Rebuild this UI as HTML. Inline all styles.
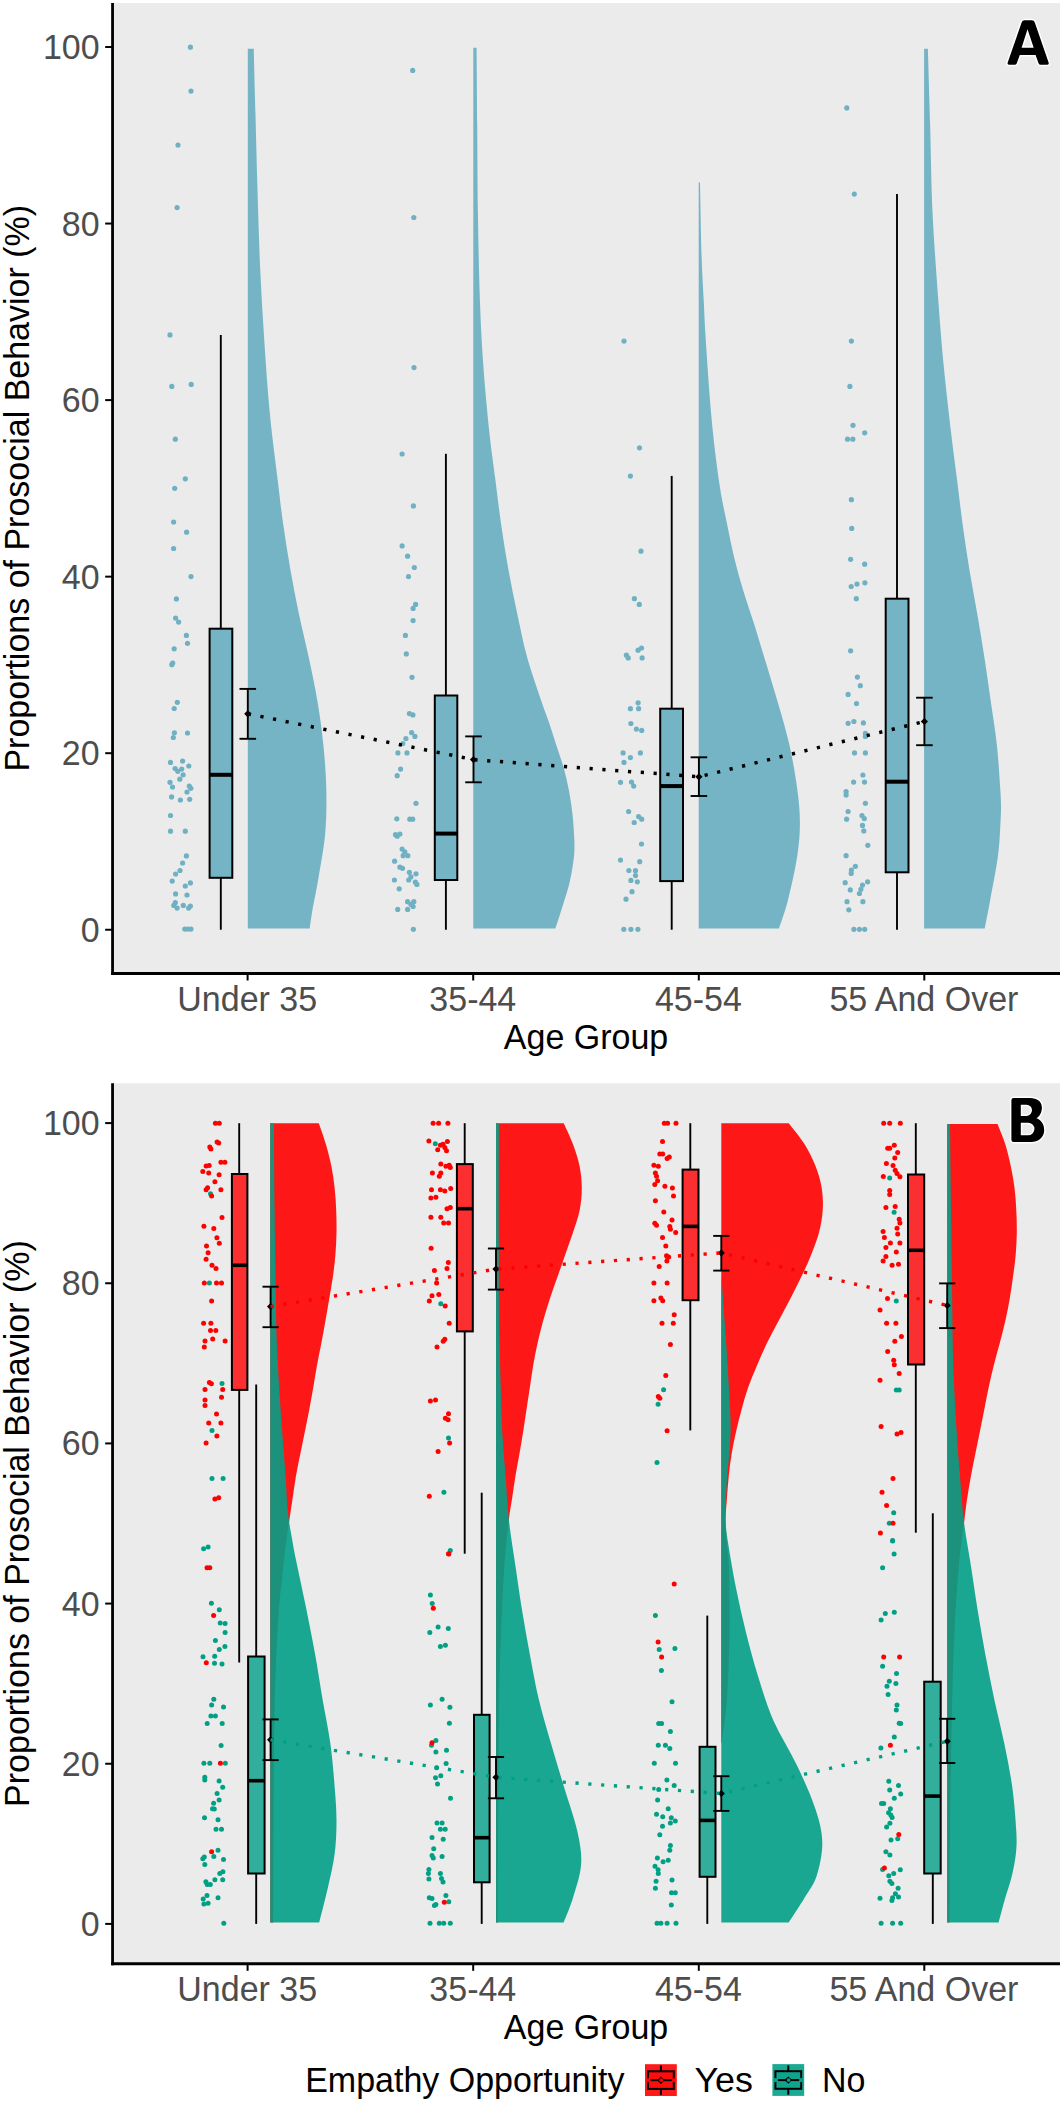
<!DOCTYPE html><html><head><meta charset="utf-8"><style>html,body{margin:0;padding:0;background:#fff;}svg{display:block;}</style></head><body>
<svg width="1062" height="2103" viewBox="0 0 1062 2103" font-family='"Liberation Sans", sans-serif'>
<rect x="0" y="0" width="1062" height="2103" fill="#fff"/>
<rect x="112.5" y="3.00" width="947.5" height="970.50" fill="#EBEBEB"/>
<path d="M247.80,48.75 L253.75,48.75 C254.04,59.79 254.88,91.46 255.50,115.00 C256.12,138.54 256.75,165.00 257.50,190.00 C258.25,215.00 258.88,240.00 260.00,265.00 C261.12,290.00 262.58,315.00 264.25,340.00 C265.92,365.00 267.76,391.67 270.00,415.00 C272.24,438.33 275.50,461.80 277.70,480.00 C279.90,498.20 281.12,509.47 283.20,524.20 C285.28,538.93 287.63,553.67 290.20,568.40 C292.77,583.13 295.53,597.87 298.60,612.60 C301.67,627.33 305.47,642.07 308.60,656.80 C311.73,671.53 314.93,686.27 317.40,701.00 C319.87,715.73 321.92,730.47 323.40,745.20 C324.88,759.93 326.00,774.67 326.30,789.40 C326.60,804.13 326.50,818.87 325.20,833.60 C323.90,848.33 320.65,864.90 318.50,877.80 C316.35,890.70 313.77,902.53 312.30,911.00 C310.83,919.47 310.13,925.67 309.70,928.60 L247.80,928.60 Z" fill="#75B4C5"/>
<path d="M473.30,47.80 L476.60,47.80 C476.70,60.40 476.98,96.07 477.20,123.40 C477.42,150.73 477.45,182.33 477.90,211.80 C478.35,241.27 478.98,274.42 479.90,300.20 C480.82,325.98 481.82,344.40 483.40,366.50 C484.98,388.60 487.40,413.88 489.40,432.80 C491.40,451.72 493.45,464.77 495.40,480.00 C497.35,495.23 498.97,509.47 501.10,524.20 C503.23,538.93 505.55,553.67 508.20,568.40 C510.85,583.13 513.87,597.87 517.00,612.60 C520.13,627.33 522.95,642.07 527.00,656.80 C531.05,671.53 537.62,690.00 541.30,701.00 C544.98,712.00 546.57,715.35 549.10,722.80 C551.63,730.25 554.03,738.08 556.50,745.70 C558.97,753.32 561.80,760.90 563.90,768.50 C566.00,776.10 567.67,783.68 569.10,791.30 C570.53,798.92 571.65,806.58 572.50,814.20 C573.35,821.82 573.88,831.30 574.20,837.00 C574.52,842.70 574.50,844.60 574.40,848.40 C574.30,852.20 574.40,854.10 573.60,859.80 C572.80,865.50 571.40,874.98 569.60,882.60 C567.80,890.22 565.17,897.83 562.80,905.50 C560.43,913.17 556.63,924.75 555.40,928.60 L473.30,928.60 Z" fill="#75B4C5"/>
<path d="M698.70,182.60 L700.00,182.60 C700.27,194.83 700.98,236.43 701.60,256.00 C702.22,275.57 703.08,287.28 703.70,300.00 C704.32,312.72 704.68,321.53 705.30,332.30 C705.92,343.07 706.67,353.83 707.40,364.60 C708.13,375.37 708.83,386.13 709.70,396.90 C710.57,407.67 711.50,418.42 712.60,429.20 C713.70,439.98 714.90,450.82 716.30,461.60 C717.70,472.38 719.13,483.13 721.00,493.90 C722.87,504.67 725.27,515.43 727.50,526.20 C729.73,536.97 731.77,547.73 734.40,558.50 C737.03,569.27 740.07,580.03 743.30,590.80 C746.53,601.57 750.33,612.10 753.80,623.10 C757.27,634.10 760.17,643.82 764.10,656.80 C768.03,669.78 773.17,686.27 777.40,701.00 C781.63,715.73 786.18,730.47 789.50,745.20 C792.82,759.93 795.57,776.52 797.30,789.40 C799.03,802.28 799.90,811.45 799.90,822.50 C799.90,833.55 799.28,842.80 797.30,855.70 C795.32,868.60 791.07,887.75 788.00,899.90 C784.93,912.05 780.42,923.82 778.90,928.60 L698.70,928.60 Z" fill="#75B4C5"/>
<path d="M924.10,48.70 L927.90,48.70 C928.27,61.15 929.33,96.22 930.10,123.40 C930.87,150.58 931.13,182.33 932.50,211.80 C933.87,241.27 936.42,274.42 938.30,300.20 C940.18,325.98 941.67,344.40 943.80,366.50 C945.93,388.60 948.88,413.88 951.10,432.80 C953.32,451.72 955.18,464.77 957.10,480.00 C959.02,495.23 960.58,509.47 962.60,524.20 C964.62,538.93 966.80,553.67 969.20,568.40 C971.60,583.13 974.48,597.87 977.00,612.60 C979.52,627.33 982.02,642.07 984.30,656.80 C986.58,671.53 988.60,686.27 990.70,701.00 C992.80,715.73 995.30,730.47 996.90,745.20 C998.50,759.93 999.62,779.27 1000.30,789.40 C1000.98,799.53 1000.97,800.48 1001.00,806.00 C1001.03,811.52 1001.00,814.22 1000.50,822.50 C1000.00,830.78 999.72,842.80 998.00,855.70 C996.28,868.60 992.42,887.75 990.20,899.90 C987.98,912.05 985.62,923.82 984.70,928.60 L924.10,928.60 Z" fill="#75B4C5"/>
<circle cx="190.4" cy="47.2" r="2.60" fill="#6FB1C3"/><circle cx="191.0" cy="91.1" r="2.60" fill="#6FB1C3"/><circle cx="178.0" cy="145.1" r="2.60" fill="#6FB1C3"/><circle cx="177.1" cy="207.6" r="2.60" fill="#6FB1C3"/><circle cx="170.0" cy="334.9" r="2.60" fill="#6FB1C3"/><circle cx="171.8" cy="386.4" r="2.60" fill="#6FB1C3"/><circle cx="191.2" cy="384.4" r="2.60" fill="#6FB1C3"/><circle cx="175.3" cy="439.2" r="2.60" fill="#6FB1C3"/><circle cx="185.3" cy="478.8" r="2.60" fill="#6FB1C3"/><circle cx="174.7" cy="488.3" r="2.60" fill="#6FB1C3"/><circle cx="173.6" cy="522.0" r="2.60" fill="#6FB1C3"/><circle cx="186.6" cy="532.2" r="2.60" fill="#6FB1C3"/><circle cx="173.6" cy="548.5" r="2.60" fill="#6FB1C3"/><circle cx="191.0" cy="576.6" r="2.60" fill="#6FB1C3"/><circle cx="176.4" cy="598.9" r="2.60" fill="#6FB1C3"/><circle cx="175.6" cy="618.1" r="2.60" fill="#6FB1C3"/><circle cx="178.6" cy="622.1" r="2.60" fill="#6FB1C3"/><circle cx="186.4" cy="635.4" r="2.60" fill="#6FB1C3"/><circle cx="187.5" cy="643.3" r="2.60" fill="#6FB1C3"/><circle cx="174.2" cy="648.8" r="2.60" fill="#6FB1C3"/><circle cx="172.7" cy="663.0" r="2.60" fill="#6FB1C3"/><circle cx="171.8" cy="664.7" r="2.60" fill="#6FB1C3"/><circle cx="177.3" cy="702.3" r="2.60" fill="#6FB1C3"/><circle cx="174.2" cy="708.5" r="2.60" fill="#6FB1C3"/><circle cx="174.4" cy="732.8" r="2.60" fill="#6FB1C3"/><circle cx="187.5" cy="733.0" r="2.60" fill="#6FB1C3"/><circle cx="173.3" cy="737.5" r="2.60" fill="#6FB1C3"/><circle cx="170.5" cy="762.4" r="2.60" fill="#6FB1C3"/><circle cx="182.6" cy="761.1" r="2.60" fill="#6FB1C3"/><circle cx="188.8" cy="766.0" r="2.60" fill="#6FB1C3"/><circle cx="175.1" cy="768.6" r="2.60" fill="#6FB1C3"/><circle cx="177.8" cy="771.3" r="2.60" fill="#6FB1C3"/><circle cx="181.7" cy="769.1" r="2.60" fill="#6FB1C3"/><circle cx="183.1" cy="774.8" r="2.60" fill="#6FB1C3"/><circle cx="179.8" cy="779.2" r="2.60" fill="#6FB1C3"/><circle cx="170.0" cy="782.3" r="2.60" fill="#6FB1C3"/><circle cx="172.5" cy="787.0" r="2.60" fill="#6FB1C3"/><circle cx="189.3" cy="786.1" r="2.60" fill="#6FB1C3"/><circle cx="190.8" cy="788.3" r="2.60" fill="#6FB1C3"/><circle cx="187.0" cy="792.0" r="2.60" fill="#6FB1C3"/><circle cx="171.6" cy="796.9" r="2.60" fill="#6FB1C3"/><circle cx="180.4" cy="800.0" r="2.60" fill="#6FB1C3"/><circle cx="189.7" cy="799.3" r="2.60" fill="#6FB1C3"/><circle cx="170.5" cy="815.5" r="2.60" fill="#6FB1C3"/><circle cx="170.5" cy="831.2" r="2.60" fill="#6FB1C3"/><circle cx="185.3" cy="831.2" r="2.60" fill="#6FB1C3"/><circle cx="186.4" cy="855.9" r="2.60" fill="#6FB1C3"/><circle cx="182.6" cy="863.0" r="2.60" fill="#6FB1C3"/><circle cx="180.0" cy="870.5" r="2.60" fill="#6FB1C3"/><circle cx="175.6" cy="874.0" r="2.60" fill="#6FB1C3"/><circle cx="172.2" cy="881.1" r="2.60" fill="#6FB1C3"/><circle cx="190.4" cy="882.9" r="2.60" fill="#6FB1C3"/><circle cx="185.3" cy="886.0" r="2.60" fill="#6FB1C3"/><circle cx="175.6" cy="893.9" r="2.60" fill="#6FB1C3"/><circle cx="187.0" cy="895.0" r="2.60" fill="#6FB1C3"/><circle cx="175.3" cy="902.5" r="2.60" fill="#6FB1C3"/><circle cx="173.8" cy="905.4" r="2.60" fill="#6FB1C3"/><circle cx="177.1" cy="908.1" r="2.60" fill="#6FB1C3"/><circle cx="183.3" cy="905.4" r="2.60" fill="#6FB1C3"/><circle cx="190.4" cy="906.1" r="2.60" fill="#6FB1C3"/><circle cx="188.6" cy="908.1" r="2.60" fill="#6FB1C3"/><circle cx="184.8" cy="929.1" r="2.60" fill="#6FB1C3"/><circle cx="187.7" cy="929.1" r="2.60" fill="#6FB1C3"/><circle cx="191.0" cy="929.1" r="2.60" fill="#6FB1C3"/><circle cx="412.7" cy="70.4" r="2.60" fill="#6FB1C3"/><circle cx="413.8" cy="217.5" r="2.60" fill="#6FB1C3"/><circle cx="414.0" cy="367.6" r="2.60" fill="#6FB1C3"/><circle cx="402.1" cy="454.0" r="2.60" fill="#6FB1C3"/><circle cx="413.4" cy="505.9" r="2.60" fill="#6FB1C3"/><circle cx="402.1" cy="545.9" r="2.60" fill="#6FB1C3"/><circle cx="407.6" cy="556.2" r="2.60" fill="#6FB1C3"/><circle cx="414.3" cy="567.5" r="2.60" fill="#6FB1C3"/><circle cx="408.5" cy="576.6" r="2.60" fill="#6FB1C3"/><circle cx="415.6" cy="604.4" r="2.60" fill="#6FB1C3"/><circle cx="413.1" cy="608.4" r="2.60" fill="#6FB1C3"/><circle cx="413.1" cy="620.6" r="2.60" fill="#6FB1C3"/><circle cx="405.4" cy="635.4" r="2.60" fill="#6FB1C3"/><circle cx="406.3" cy="653.9" r="2.60" fill="#6FB1C3"/><circle cx="412.0" cy="677.3" r="2.60" fill="#6FB1C3"/><circle cx="409.4" cy="713.6" r="2.60" fill="#6FB1C3"/><circle cx="412.9" cy="714.9" r="2.60" fill="#6FB1C3"/><circle cx="411.6" cy="732.6" r="2.60" fill="#6FB1C3"/><circle cx="414.9" cy="736.4" r="2.60" fill="#6FB1C3"/><circle cx="405.9" cy="738.6" r="2.60" fill="#6FB1C3"/><circle cx="402.8" cy="743.6" r="2.60" fill="#6FB1C3"/><circle cx="397.9" cy="752.9" r="2.60" fill="#6FB1C3"/><circle cx="407.0" cy="752.9" r="2.60" fill="#6FB1C3"/><circle cx="400.6" cy="769.1" r="2.60" fill="#6FB1C3"/><circle cx="397.2" cy="775.7" r="2.60" fill="#6FB1C3"/><circle cx="416.0" cy="803.3" r="2.60" fill="#6FB1C3"/><circle cx="396.8" cy="818.8" r="2.60" fill="#6FB1C3"/><circle cx="409.8" cy="819.2" r="2.60" fill="#6FB1C3"/><circle cx="412.7" cy="819.2" r="2.60" fill="#6FB1C3"/><circle cx="395.5" cy="834.7" r="2.60" fill="#6FB1C3"/><circle cx="399.9" cy="834.0" r="2.60" fill="#6FB1C3"/><circle cx="397.2" cy="836.2" r="2.60" fill="#6FB1C3"/><circle cx="402.1" cy="849.1" r="2.60" fill="#6FB1C3"/><circle cx="404.8" cy="851.9" r="2.60" fill="#6FB1C3"/><circle cx="407.8" cy="855.7" r="2.60" fill="#6FB1C3"/><circle cx="403.2" cy="855.7" r="2.60" fill="#6FB1C3"/><circle cx="394.6" cy="861.2" r="2.60" fill="#6FB1C3"/><circle cx="399.9" cy="867.2" r="2.60" fill="#6FB1C3"/><circle cx="402.5" cy="868.3" r="2.60" fill="#6FB1C3"/><circle cx="409.4" cy="872.3" r="2.60" fill="#6FB1C3"/><circle cx="416.0" cy="873.8" r="2.60" fill="#6FB1C3"/><circle cx="410.9" cy="876.9" r="2.60" fill="#6FB1C3"/><circle cx="408.7" cy="880.0" r="2.60" fill="#6FB1C3"/><circle cx="394.4" cy="880.0" r="2.60" fill="#6FB1C3"/><circle cx="415.4" cy="882.2" r="2.60" fill="#6FB1C3"/><circle cx="416.9" cy="884.4" r="2.60" fill="#6FB1C3"/><circle cx="399.2" cy="888.8" r="2.60" fill="#6FB1C3"/><circle cx="407.6" cy="901.7" r="2.60" fill="#6FB1C3"/><circle cx="413.8" cy="901.7" r="2.60" fill="#6FB1C3"/><circle cx="410.9" cy="904.3" r="2.60" fill="#6FB1C3"/><circle cx="413.1" cy="906.5" r="2.60" fill="#6FB1C3"/><circle cx="397.7" cy="909.4" r="2.60" fill="#6FB1C3"/><circle cx="407.6" cy="909.4" r="2.60" fill="#6FB1C3"/><circle cx="413.4" cy="929.3" r="2.60" fill="#6FB1C3"/><circle cx="624.0" cy="341.1" r="2.60" fill="#6FB1C3"/><circle cx="639.5" cy="447.8" r="2.60" fill="#6FB1C3"/><circle cx="630.4" cy="476.1" r="2.60" fill="#6FB1C3"/><circle cx="641.0" cy="551.2" r="2.60" fill="#6FB1C3"/><circle cx="634.4" cy="598.7" r="2.60" fill="#6FB1C3"/><circle cx="639.3" cy="604.4" r="2.60" fill="#6FB1C3"/><circle cx="641.5" cy="648.0" r="2.60" fill="#6FB1C3"/><circle cx="638.1" cy="650.2" r="2.60" fill="#6FB1C3"/><circle cx="626.4" cy="655.2" r="2.60" fill="#6FB1C3"/><circle cx="628.2" cy="657.9" r="2.60" fill="#6FB1C3"/><circle cx="642.1" cy="657.9" r="2.60" fill="#6FB1C3"/><circle cx="638.1" cy="702.8" r="2.60" fill="#6FB1C3"/><circle cx="630.4" cy="708.7" r="2.60" fill="#6FB1C3"/><circle cx="638.6" cy="708.7" r="2.60" fill="#6FB1C3"/><circle cx="630.9" cy="723.5" r="2.60" fill="#6FB1C3"/><circle cx="636.4" cy="729.1" r="2.60" fill="#6FB1C3"/><circle cx="641.7" cy="730.4" r="2.60" fill="#6FB1C3"/><circle cx="623.1" cy="752.9" r="2.60" fill="#6FB1C3"/><circle cx="640.4" cy="752.9" r="2.60" fill="#6FB1C3"/><circle cx="630.4" cy="757.6" r="2.60" fill="#6FB1C3"/><circle cx="624.0" cy="762.4" r="2.60" fill="#6FB1C3"/><circle cx="620.5" cy="782.3" r="2.60" fill="#6FB1C3"/><circle cx="631.5" cy="782.1" r="2.60" fill="#6FB1C3"/><circle cx="633.7" cy="786.1" r="2.60" fill="#6FB1C3"/><circle cx="628.6" cy="811.5" r="2.60" fill="#6FB1C3"/><circle cx="638.6" cy="816.6" r="2.60" fill="#6FB1C3"/><circle cx="641.7" cy="819.2" r="2.60" fill="#6FB1C3"/><circle cx="634.2" cy="822.5" r="2.60" fill="#6FB1C3"/><circle cx="641.5" cy="844.0" r="2.60" fill="#6FB1C3"/><circle cx="620.5" cy="860.1" r="2.60" fill="#6FB1C3"/><circle cx="639.7" cy="861.7" r="2.60" fill="#6FB1C3"/><circle cx="628.9" cy="870.5" r="2.60" fill="#6FB1C3"/><circle cx="635.5" cy="870.7" r="2.60" fill="#6FB1C3"/><circle cx="635.5" cy="875.6" r="2.60" fill="#6FB1C3"/><circle cx="630.9" cy="880.4" r="2.60" fill="#6FB1C3"/><circle cx="637.3" cy="881.8" r="2.60" fill="#6FB1C3"/><circle cx="632.0" cy="891.7" r="2.60" fill="#6FB1C3"/><circle cx="626.0" cy="899.2" r="2.60" fill="#6FB1C3"/><circle cx="623.8" cy="929.3" r="2.60" fill="#6FB1C3"/><circle cx="630.9" cy="929.3" r="2.60" fill="#6FB1C3"/><circle cx="637.9" cy="929.3" r="2.60" fill="#6FB1C3"/><circle cx="846.8" cy="107.9" r="2.60" fill="#6FB1C3"/><circle cx="854.3" cy="194.1" r="2.60" fill="#6FB1C3"/><circle cx="851.4" cy="341.1" r="2.60" fill="#6FB1C3"/><circle cx="849.9" cy="386.4" r="2.60" fill="#6FB1C3"/><circle cx="853.0" cy="425.3" r="2.60" fill="#6FB1C3"/><circle cx="864.7" cy="432.8" r="2.60" fill="#6FB1C3"/><circle cx="847.5" cy="439.2" r="2.60" fill="#6FB1C3"/><circle cx="852.8" cy="439.2" r="2.60" fill="#6FB1C3"/><circle cx="851.4" cy="499.7" r="2.60" fill="#6FB1C3"/><circle cx="851.7" cy="528.4" r="2.60" fill="#6FB1C3"/><circle cx="850.6" cy="559.3" r="2.60" fill="#6FB1C3"/><circle cx="864.7" cy="564.2" r="2.60" fill="#6FB1C3"/><circle cx="851.2" cy="586.5" r="2.60" fill="#6FB1C3"/><circle cx="857.0" cy="584.1" r="2.60" fill="#6FB1C3"/><circle cx="864.9" cy="582.8" r="2.60" fill="#6FB1C3"/><circle cx="856.3" cy="598.7" r="2.60" fill="#6FB1C3"/><circle cx="850.6" cy="650.8" r="2.60" fill="#6FB1C3"/><circle cx="857.4" cy="677.1" r="2.60" fill="#6FB1C3"/><circle cx="860.3" cy="685.7" r="2.60" fill="#6FB1C3"/><circle cx="848.1" cy="694.4" r="2.60" fill="#6FB1C3"/><circle cx="856.5" cy="703.6" r="2.60" fill="#6FB1C3"/><circle cx="848.1" cy="723.3" r="2.60" fill="#6FB1C3"/><circle cx="853.9" cy="721.5" r="2.60" fill="#6FB1C3"/><circle cx="863.4" cy="722.9" r="2.60" fill="#6FB1C3"/><circle cx="865.4" cy="733.3" r="2.60" fill="#6FB1C3"/><circle cx="865.4" cy="736.4" r="2.60" fill="#6FB1C3"/><circle cx="854.5" cy="752.9" r="2.60" fill="#6FB1C3"/><circle cx="865.4" cy="752.9" r="2.60" fill="#6FB1C3"/><circle cx="862.9" cy="775.0" r="2.60" fill="#6FB1C3"/><circle cx="853.6" cy="782.1" r="2.60" fill="#6FB1C3"/><circle cx="864.5" cy="782.1" r="2.60" fill="#6FB1C3"/><circle cx="846.1" cy="791.6" r="2.60" fill="#6FB1C3"/><circle cx="846.1" cy="794.9" r="2.60" fill="#6FB1C3"/><circle cx="865.4" cy="803.3" r="2.60" fill="#6FB1C3"/><circle cx="848.1" cy="811.5" r="2.60" fill="#6FB1C3"/><circle cx="862.0" cy="815.5" r="2.60" fill="#6FB1C3"/><circle cx="864.3" cy="818.6" r="2.60" fill="#6FB1C3"/><circle cx="846.6" cy="819.2" r="2.60" fill="#6FB1C3"/><circle cx="862.5" cy="825.4" r="2.60" fill="#6FB1C3"/><circle cx="863.8" cy="830.9" r="2.60" fill="#6FB1C3"/><circle cx="867.8" cy="845.3" r="2.60" fill="#6FB1C3"/><circle cx="846.1" cy="855.7" r="2.60" fill="#6FB1C3"/><circle cx="855.4" cy="866.3" r="2.60" fill="#6FB1C3"/><circle cx="851.4" cy="870.1" r="2.60" fill="#6FB1C3"/><circle cx="851.2" cy="873.4" r="2.60" fill="#6FB1C3"/><circle cx="845.2" cy="882.7" r="2.60" fill="#6FB1C3"/><circle cx="862.5" cy="885.1" r="2.60" fill="#6FB1C3"/><circle cx="867.6" cy="881.8" r="2.60" fill="#6FB1C3"/><circle cx="860.9" cy="889.3" r="2.60" fill="#6FB1C3"/><circle cx="850.3" cy="889.9" r="2.60" fill="#6FB1C3"/><circle cx="859.4" cy="893.5" r="2.60" fill="#6FB1C3"/><circle cx="847.0" cy="901.7" r="2.60" fill="#6FB1C3"/><circle cx="862.9" cy="901.7" r="2.60" fill="#6FB1C3"/><circle cx="848.8" cy="909.8" r="2.60" fill="#6FB1C3"/><circle cx="853.9" cy="929.3" r="2.60" fill="#6FB1C3"/><circle cx="859.4" cy="929.3" r="2.60" fill="#6FB1C3"/><circle cx="864.7" cy="929.3" r="2.60" fill="#6FB1C3"/>
<line x1="220.80" y1="334.90" x2="220.80" y2="628.70" stroke="#000" stroke-width="1.90"/>
<line x1="220.80" y1="877.80" x2="220.80" y2="929.75" stroke="#000" stroke-width="1.90"/>
<rect x="209.60" y="628.70" width="22.70" height="249.10" fill="#75B4C5" stroke="#000" stroke-width="2.0"/><line x1="209.60" y1="774.80" x2="232.30" y2="774.80" stroke="#000" stroke-width="4.0"/>
<line x1="445.90" y1="453.80" x2="445.90" y2="695.50" stroke="#000" stroke-width="1.90"/>
<line x1="445.90" y1="880.00" x2="445.90" y2="929.75" stroke="#000" stroke-width="1.90"/>
<rect x="434.80" y="695.50" width="22.50" height="184.50" fill="#75B4C5" stroke="#000" stroke-width="2.0"/><line x1="434.80" y1="833.60" x2="457.30" y2="833.60" stroke="#000" stroke-width="4.0"/>
<line x1="671.70" y1="475.90" x2="671.70" y2="708.70" stroke="#000" stroke-width="1.90"/>
<line x1="671.70" y1="881.10" x2="671.70" y2="929.75" stroke="#000" stroke-width="1.90"/>
<rect x="660.20" y="708.70" width="22.80" height="172.40" fill="#75B4C5" stroke="#000" stroke-width="2.0"/><line x1="660.20" y1="786.10" x2="683.00" y2="786.10" stroke="#000" stroke-width="4.0"/>
<line x1="897.00" y1="194.10" x2="897.00" y2="598.70" stroke="#000" stroke-width="1.90"/>
<line x1="897.00" y1="872.30" x2="897.00" y2="929.75" stroke="#000" stroke-width="1.90"/>
<rect x="885.70" y="598.70" width="22.80" height="273.60" fill="#75B4C5" stroke="#000" stroke-width="2.0"/><line x1="885.70" y1="781.70" x2="908.50" y2="781.70" stroke="#000" stroke-width="4.0"/>
<line x1="247.80" y1="688.90" x2="247.80" y2="738.80" stroke="#000" stroke-width="1.90"/><line x1="239.50" y1="688.90" x2="256.10" y2="688.90" stroke="#000" stroke-width="1.90"/><line x1="239.50" y1="738.80" x2="256.10" y2="738.80" stroke="#000" stroke-width="1.90"/>
<path d="M247.80,710.20 L251.40,713.80 L247.80,717.40 L244.20,713.80 Z" fill="#000"/>
<line x1="473.50" y1="736.40" x2="473.50" y2="782.30" stroke="#000" stroke-width="1.90"/><line x1="465.20" y1="736.40" x2="481.80" y2="736.40" stroke="#000" stroke-width="1.90"/><line x1="465.20" y1="782.30" x2="481.80" y2="782.30" stroke="#000" stroke-width="1.90"/>
<path d="M473.50,756.00 L477.10,759.60 L473.50,763.20 L469.90,759.60 Z" fill="#000"/>
<line x1="698.90" y1="757.30" x2="698.90" y2="796.00" stroke="#000" stroke-width="1.90"/><line x1="690.60" y1="757.30" x2="707.20" y2="757.30" stroke="#000" stroke-width="1.90"/><line x1="690.60" y1="796.00" x2="707.20" y2="796.00" stroke="#000" stroke-width="1.90"/>
<path d="M698.90,773.20 L702.50,776.80 L698.90,780.40 L695.30,776.80 Z" fill="#000"/>
<line x1="924.40" y1="697.70" x2="924.40" y2="745.20" stroke="#000" stroke-width="1.90"/><line x1="916.10" y1="697.70" x2="932.70" y2="697.70" stroke="#000" stroke-width="1.90"/><line x1="916.10" y1="745.20" x2="932.70" y2="745.20" stroke="#000" stroke-width="1.90"/>
<path d="M924.40,717.90 L928.00,721.50 L924.40,725.10 L920.80,721.50 Z" fill="#000"/>
<path d="M247.80,713.80 L473.50,759.60 L698.90,776.80 L924.40,721.50" fill="none" stroke="#000" stroke-width="3.50" stroke-dasharray="3.21 9.63" stroke-linecap="butt"/>
<line x1="105.20" y1="929.75" x2="112.50" y2="929.75" stroke="#000" stroke-width="2.00"/><text transform="translate(99.60,941.75) scale(1.000,1.040)" text-anchor="end" fill="#4D4D4D" font-size="34">0</text><line x1="105.20" y1="753.20" x2="112.50" y2="753.20" stroke="#000" stroke-width="2.00"/><text transform="translate(99.60,765.20) scale(1.000,1.040)" text-anchor="end" fill="#4D4D4D" font-size="34">20</text><line x1="105.20" y1="576.65" x2="112.50" y2="576.65" stroke="#000" stroke-width="2.00"/><text transform="translate(99.60,588.65) scale(1.000,1.040)" text-anchor="end" fill="#4D4D4D" font-size="34">40</text><line x1="105.20" y1="400.10" x2="112.50" y2="400.10" stroke="#000" stroke-width="2.00"/><text transform="translate(99.60,412.10) scale(1.000,1.040)" text-anchor="end" fill="#4D4D4D" font-size="34">60</text><line x1="105.20" y1="223.55" x2="112.50" y2="223.55" stroke="#000" stroke-width="2.00"/><text transform="translate(99.60,235.55) scale(1.000,1.040)" text-anchor="end" fill="#4D4D4D" font-size="34">80</text><line x1="105.20" y1="47.00" x2="112.50" y2="47.00" stroke="#000" stroke-width="2.00"/><text transform="translate(99.60,59.00) scale(1.000,1.040)" text-anchor="end" fill="#4D4D4D" font-size="34">100</text><line x1="247.60" y1="973.50" x2="247.60" y2="980.50" stroke="#000" stroke-width="2.00"/><text transform="translate(247.20,1010.90) scale(1.000,1.040)" text-anchor="middle" fill="#4D4D4D" font-size="34">Under 35</text><line x1="473.20" y1="973.50" x2="473.20" y2="980.50" stroke="#000" stroke-width="2.00"/><text transform="translate(472.80,1010.90) scale(1.000,1.040)" text-anchor="middle" fill="#4D4D4D" font-size="34">35-44</text><line x1="698.80" y1="973.50" x2="698.80" y2="980.50" stroke="#000" stroke-width="2.00"/><text transform="translate(698.40,1010.90) scale(1.000,1.040)" text-anchor="middle" fill="#4D4D4D" font-size="34">45-54</text><line x1="924.30" y1="973.50" x2="924.30" y2="980.50" stroke="#000" stroke-width="2.00"/><text transform="translate(923.90,1010.90) scale(1.000,1.040)" text-anchor="middle" fill="#4D4D4D" font-size="34">55 And Over</text><line x1="112.55" y1="3.00" x2="112.55" y2="975.00" stroke="#000" stroke-width="2.8"/><line x1="111.2" y1="973.50" x2="1060" y2="973.50" stroke="#000" stroke-width="3.0"/><text transform="translate(586.00,1049.00) scale(1.000,1.040)" text-anchor="middle" fill="#000" font-size="34">Age Group</text><text transform="translate(28.90,488.25) rotate(-90) scale(1.000,1.040)" text-anchor="middle" fill="#000" font-size="34">Proportions of Prosocial Behavior (%)</text>
<path d="M1009.4,64.8 L1014.6,64.8 Q1016.2,64.8 1016.8,63.2 L1019.8,55.1 L1035.6,55.1 L1038.5,63.3 Q1039.1,64.8 1040.7,64.8 L1046.9,64.8 Q1049.3,64.8 1048.6,62.6 L1034.8,22.5 Q1034.1,20.3 1031.8,20.3 L1024.6,20.3 Q1022.3,20.3 1021.6,22.5 L1007.7,62.6 Q1007.0,64.8 1009.4,64.8 Z M1027.5,29.2 L1033.7,47.7 L1021.6,47.7 Z" fill="#000" fill-rule="evenodd" stroke="#fff" stroke-width="3" paint-order="stroke" stroke-linejoin="round"/>
<rect x="112.5" y="1083.30" width="947.5" height="880.50" fill="#EBEBEB"/><path d="M270.20,1123.20 L318.80,1123.20 C319.98,1126.70 323.80,1137.02 325.90,1144.20 C328.00,1151.38 329.93,1158.93 331.40,1166.30 C332.87,1173.67 333.90,1181.03 334.70,1188.40 C335.50,1195.77 335.90,1203.13 336.20,1210.50 C336.50,1217.87 336.63,1225.23 336.50,1232.60 C336.37,1239.97 336.00,1247.33 335.40,1254.70 C334.80,1262.07 333.93,1269.43 332.90,1276.80 C331.87,1284.17 330.45,1291.53 329.20,1298.90 C327.95,1306.27 326.70,1313.63 325.40,1321.00 C324.10,1328.37 322.80,1335.73 321.40,1343.10 C320.00,1350.47 318.35,1357.83 317.00,1365.20 C315.65,1372.57 314.58,1379.93 313.30,1387.30 C312.02,1394.67 310.70,1402.03 309.30,1409.40 C307.90,1416.77 306.38,1424.13 304.90,1431.50 C303.42,1438.87 301.88,1446.23 300.40,1453.60 C298.92,1460.97 297.28,1468.33 296.00,1475.70 C294.72,1483.07 293.80,1490.43 292.70,1497.80 C291.60,1505.17 290.38,1513.37 289.40,1519.90 C288.42,1526.43 287.70,1530.32 286.80,1537.00 C285.90,1543.68 284.80,1552.83 284.00,1560.00 C283.20,1567.17 282.83,1571.67 282.00,1580.00 C281.17,1588.33 280.08,1593.87 279.00,1610.00 C277.92,1626.13 276.35,1650.97 275.50,1676.80 C274.65,1702.63 274.27,1724.05 273.90,1765.00 C273.53,1805.95 273.40,1896.25 273.30,1922.50 L270.20,1922.50 Z" fill="rgb(255,0,0)" fill-opacity="0.9"/><path d="M496.00,1123.20 L563.70,1123.20 C565.25,1126.70 570.35,1137.02 573.00,1144.20 C575.65,1151.38 578.13,1158.93 579.60,1166.30 C581.07,1173.67 581.80,1181.03 581.80,1188.40 C581.80,1195.77 581.07,1203.13 579.60,1210.50 C578.13,1217.87 575.40,1225.23 573.00,1232.60 C570.60,1239.97 567.78,1247.33 565.20,1254.70 C562.62,1262.07 560.07,1269.43 557.50,1276.80 C554.93,1284.17 552.20,1291.53 549.80,1298.90 C547.40,1306.27 545.13,1313.63 543.10,1321.00 C541.07,1328.37 539.25,1335.73 537.60,1343.10 C535.95,1350.47 534.48,1357.83 533.20,1365.20 C531.92,1372.57 531.02,1379.93 529.90,1387.30 C528.78,1394.67 527.62,1402.03 526.50,1409.40 C525.38,1416.77 524.37,1424.13 523.20,1431.50 C522.03,1438.87 520.78,1446.23 519.50,1453.60 C518.22,1460.97 516.72,1468.33 515.50,1475.70 C514.28,1483.07 513.30,1490.43 512.20,1497.80 C511.10,1505.17 510.20,1508.48 508.90,1519.90 C507.60,1531.32 505.70,1547.52 504.40,1566.30 C503.10,1585.08 502.02,1606.82 501.10,1632.60 C500.18,1658.38 499.45,1672.68 498.90,1721.00 C498.35,1769.32 497.98,1888.92 497.80,1922.50 L496.00,1922.50 Z" fill="rgb(255,0,0)" fill-opacity="0.9"/><path d="M721.30,1123.20 L788.70,1123.20 C791.35,1126.70 800.12,1137.02 804.60,1144.20 C809.08,1151.38 812.73,1158.93 815.60,1166.30 C818.47,1173.67 820.62,1181.03 821.80,1188.40 C822.98,1195.77 823.17,1203.13 822.70,1210.50 C822.23,1217.87 820.92,1225.23 819.00,1232.60 C817.08,1239.97 814.15,1247.33 811.20,1254.70 C808.25,1262.07 804.80,1269.43 801.30,1276.80 C797.80,1284.17 794.00,1291.53 790.20,1298.90 C786.40,1306.27 782.37,1313.63 778.50,1321.00 C774.63,1328.37 770.57,1335.73 767.00,1343.10 C763.43,1350.47 760.23,1357.83 757.10,1365.20 C753.97,1372.57 750.78,1379.93 748.20,1387.30 C745.62,1394.67 743.62,1402.03 741.60,1409.40 C739.58,1416.77 737.75,1424.13 736.10,1431.50 C734.45,1438.87 732.92,1446.23 731.70,1453.60 C730.48,1460.97 729.58,1468.33 728.80,1475.70 C728.02,1483.07 727.53,1490.43 727.00,1497.80 C726.47,1505.17 725.60,1512.20 725.60,1519.90 C725.60,1527.60 726.43,1536.27 727.00,1544.00 C727.57,1551.73 728.57,1551.53 729.00,1566.30 C729.43,1581.07 729.93,1610.50 729.60,1632.60 C729.27,1654.70 728.32,1680.48 727.00,1698.90 C725.68,1717.32 722.58,1735.73 721.70,1743.10 L721.30,1743.10 Z" fill="rgb(255,0,0)" fill-opacity="0.9"/><path d="M947.20,1123.90 L997.50,1123.90 C998.80,1127.28 1003.08,1137.13 1005.30,1144.20 C1007.52,1151.27 1009.25,1158.93 1010.80,1166.30 C1012.35,1173.67 1013.68,1181.03 1014.60,1188.40 C1015.52,1195.77 1015.93,1203.13 1016.30,1210.50 C1016.67,1217.87 1016.90,1225.23 1016.80,1232.60 C1016.70,1239.97 1016.33,1247.33 1015.70,1254.70 C1015.07,1262.07 1014.00,1269.43 1013.00,1276.80 C1012.00,1284.17 1010.98,1291.53 1009.70,1298.90 C1008.42,1306.27 1006.95,1313.63 1005.30,1321.00 C1003.65,1328.37 1001.72,1335.73 999.80,1343.10 C997.88,1350.47 995.65,1357.83 993.80,1365.20 C991.95,1372.57 990.28,1379.93 988.70,1387.30 C987.12,1394.67 985.77,1402.03 984.30,1409.40 C982.83,1416.77 981.38,1424.13 979.90,1431.50 C978.42,1438.87 976.88,1446.23 975.40,1453.60 C973.92,1460.97 972.35,1468.33 971.00,1475.70 C969.65,1483.07 968.40,1490.43 967.30,1497.80 C966.20,1505.17 965.80,1508.48 964.40,1519.90 C963.00,1531.32 960.57,1547.52 958.90,1566.30 C957.23,1585.08 955.58,1606.82 954.40,1632.60 C953.22,1658.38 952.53,1687.85 951.80,1721.00 C951.07,1754.15 950.37,1797.92 950.00,1831.50 C949.63,1865.08 949.67,1907.33 949.60,1922.50 L947.20,1922.50 Z" fill="rgb(255,0,0)" fill-opacity="0.9"/><path d="M270.20,1123.20 L273.90,1123.20 C274.02,1137.75 274.33,1184.90 274.60,1210.50 C274.87,1236.10 275.13,1254.70 275.50,1276.80 C275.87,1298.90 275.95,1321.00 276.80,1343.10 C277.65,1365.20 279.13,1387.30 280.60,1409.40 C282.07,1431.50 284.52,1460.13 285.60,1475.70 C286.68,1491.27 286.52,1495.13 287.10,1502.80 C287.68,1510.47 288.33,1516.00 289.10,1521.70 C289.87,1527.40 290.55,1530.62 291.70,1537.00 C292.85,1543.38 293.70,1548.67 296.00,1560.00 C298.30,1571.33 302.30,1589.22 305.50,1605.00 C308.70,1620.78 312.37,1639.05 315.20,1654.70 C318.03,1670.35 319.98,1684.17 322.50,1698.90 C325.02,1713.63 328.27,1728.37 330.30,1743.10 C332.33,1757.83 333.67,1774.42 334.70,1787.30 C335.73,1800.18 336.50,1809.35 336.50,1820.40 C336.50,1831.45 336.10,1842.55 334.70,1853.60 C333.30,1864.65 330.68,1875.22 328.10,1886.70 C325.52,1898.18 320.68,1916.53 319.20,1922.50 L270.20,1922.50 Z" fill="rgb(3,160,136)" fill-opacity="0.9"/><path d="M496.00,1123.20 L498.90,1123.20 C498.90,1152.48 498.78,1262.25 498.90,1298.90 C499.02,1335.55 499.30,1328.37 499.60,1343.10 C499.90,1357.83 500.27,1372.57 500.70,1387.30 C501.13,1402.03 501.38,1416.77 502.20,1431.50 C503.02,1446.23 504.48,1460.97 505.60,1475.70 C506.72,1490.43 507.25,1504.80 508.90,1519.90 C510.55,1535.00 513.30,1551.20 515.50,1566.30 C517.70,1581.40 519.70,1595.77 522.10,1610.50 C524.50,1625.23 527.13,1639.97 529.90,1654.70 C532.67,1669.43 535.20,1684.17 538.70,1698.90 C542.20,1713.63 546.67,1728.37 550.90,1743.10 C555.13,1757.83 559.68,1772.57 564.10,1787.30 C568.52,1802.03 574.57,1818.62 577.40,1831.50 C580.23,1844.38 581.83,1853.55 581.10,1864.60 C580.37,1875.65 575.90,1888.15 573.00,1897.80 C570.10,1907.45 565.25,1918.38 563.70,1922.50 L496.00,1922.50 Z" fill="rgb(3,160,136)" fill-opacity="0.9"/><path d="M721.30,1272.40 L721.30,1272.40 C721.55,1276.17 722.25,1286.90 722.80,1295.00 C723.35,1303.10 724.03,1313.00 724.60,1321.00 C725.17,1329.00 725.70,1335.63 726.20,1343.00 C726.70,1350.37 726.95,1354.13 727.60,1365.20 C728.25,1376.27 729.60,1398.35 730.10,1409.40 C730.60,1420.45 730.72,1424.13 730.60,1431.50 C730.48,1438.87 729.97,1446.23 729.40,1453.60 C728.83,1460.97 727.75,1468.33 727.20,1475.70 C726.65,1483.07 726.38,1490.43 726.10,1497.80 C725.82,1505.17 725.13,1512.17 725.50,1519.90 C725.87,1527.63 726.53,1532.78 728.30,1544.20 C730.07,1555.62 733.15,1573.67 736.10,1588.40 C739.05,1603.13 742.32,1617.87 746.00,1632.60 C749.68,1647.33 753.60,1662.07 758.20,1676.80 C762.80,1691.53 767.15,1706.27 773.60,1721.00 C780.05,1735.73 789.90,1750.47 796.90,1765.20 C803.90,1779.93 811.37,1796.52 815.60,1809.40 C819.83,1822.28 822.12,1831.45 822.30,1842.50 C822.48,1853.55 819.65,1866.48 816.70,1875.70 C813.75,1884.92 809.27,1890.00 804.60,1897.80 C799.93,1905.60 791.35,1918.38 788.70,1922.50 L721.30,1922.50 Z" fill="rgb(3,160,136)" fill-opacity="0.9"/><path d="M947.20,1123.90 L950.00,1123.90 C950.18,1138.33 950.73,1181.33 951.10,1210.50 C951.47,1239.67 951.83,1273.12 952.20,1298.90 C952.57,1324.68 952.55,1343.10 953.30,1365.20 C954.05,1387.30 955.58,1413.08 956.70,1431.50 C957.82,1449.92 958.83,1460.97 960.00,1475.70 C961.17,1490.43 961.87,1504.80 963.70,1519.90 C965.53,1535.00 968.67,1551.20 971.00,1566.30 C973.33,1581.40 975.30,1595.77 977.70,1610.50 C980.10,1625.23 982.65,1639.97 985.40,1654.70 C988.15,1669.43 991.07,1684.17 994.20,1698.90 C997.33,1713.63 1001.18,1728.37 1004.20,1743.10 C1007.22,1757.83 1010.28,1772.57 1012.30,1787.30 C1014.32,1802.03 1015.70,1820.45 1016.30,1831.50 C1016.90,1842.55 1016.63,1846.23 1015.90,1853.60 C1015.17,1860.97 1013.67,1868.33 1011.90,1875.70 C1010.13,1883.07 1007.52,1890.00 1005.30,1897.80 C1003.08,1905.60 999.72,1918.38 998.60,1922.50 L947.20,1922.50 Z" fill="rgb(3,160,136)" fill-opacity="0.9"/><circle cx="210.5" cy="1193.7" r="2.50" fill="#00A085"/><circle cx="209.4" cy="1283.0" r="2.50" fill="#00A085"/><circle cx="222.0" cy="1383.5" r="2.50" fill="#00A085"/><circle cx="212.0" cy="1430.4" r="2.50" fill="#00A085"/><circle cx="212.0" cy="1478.6" r="2.50" fill="#00A085"/><circle cx="223.1" cy="1478.6" r="2.50" fill="#00A085"/><circle cx="203.6" cy="1548.8" r="2.50" fill="#00A085"/><circle cx="208.1" cy="1547.1" r="2.50" fill="#00A085"/><circle cx="211.4" cy="1603.2" r="2.50" fill="#00A085"/><circle cx="219.3" cy="1609.8" r="2.50" fill="#00A085"/><circle cx="220.2" cy="1623.1" r="2.50" fill="#00A085"/><circle cx="225.1" cy="1623.5" r="2.50" fill="#00A085"/><circle cx="225.1" cy="1632.6" r="2.50" fill="#00A085"/><circle cx="215.4" cy="1640.6" r="2.50" fill="#00A085"/><circle cx="219.3" cy="1649.4" r="2.50" fill="#00A085"/><circle cx="224.9" cy="1646.5" r="2.50" fill="#00A085"/><circle cx="203.0" cy="1656.7" r="2.50" fill="#00A085"/><circle cx="214.7" cy="1656.2" r="2.50" fill="#00A085"/><circle cx="214.5" cy="1663.3" r="2.50" fill="#00A085"/><circle cx="222.0" cy="1664.0" r="2.50" fill="#00A085"/><circle cx="213.8" cy="1699.3" r="2.50" fill="#00A085"/><circle cx="211.6" cy="1705.1" r="2.50" fill="#00A085"/><circle cx="223.5" cy="1707.1" r="2.50" fill="#00A085"/><circle cx="210.9" cy="1715.9" r="2.50" fill="#00A085"/><circle cx="215.4" cy="1715.9" r="2.50" fill="#00A085"/><circle cx="207.2" cy="1723.6" r="2.50" fill="#00A085"/><circle cx="222.2" cy="1723.6" r="2.50" fill="#00A085"/><circle cx="221.1" cy="1745.5" r="2.50" fill="#00A085"/><circle cx="203.9" cy="1763.2" r="2.50" fill="#00A085"/><circle cx="209.8" cy="1763.2" r="2.50" fill="#00A085"/><circle cx="225.3" cy="1763.2" r="2.50" fill="#00A085"/><circle cx="204.8" cy="1777.3" r="2.50" fill="#00A085"/><circle cx="204.8" cy="1780.0" r="2.50" fill="#00A085"/><circle cx="219.1" cy="1781.1" r="2.50" fill="#00A085"/><circle cx="222.7" cy="1787.3" r="2.50" fill="#00A085"/><circle cx="217.1" cy="1793.5" r="2.50" fill="#00A085"/><circle cx="219.1" cy="1799.9" r="2.50" fill="#00A085"/><circle cx="213.6" cy="1803.2" r="2.50" fill="#00A085"/><circle cx="212.5" cy="1808.7" r="2.50" fill="#00A085"/><circle cx="214.3" cy="1808.9" r="2.50" fill="#00A085"/><circle cx="204.5" cy="1817.8" r="2.50" fill="#00A085"/><circle cx="218.0" cy="1819.8" r="2.50" fill="#00A085"/><circle cx="216.0" cy="1829.3" r="2.50" fill="#00A085"/><circle cx="221.5" cy="1829.3" r="2.50" fill="#00A085"/><circle cx="218.0" cy="1850.3" r="2.50" fill="#00A085"/><circle cx="204.3" cy="1856.9" r="2.50" fill="#00A085"/><circle cx="213.8" cy="1856.5" r="2.50" fill="#00A085"/><circle cx="202.8" cy="1858.7" r="2.50" fill="#00A085"/><circle cx="223.5" cy="1859.6" r="2.50" fill="#00A085"/><circle cx="204.8" cy="1864.6" r="2.50" fill="#00A085"/><circle cx="219.8" cy="1873.5" r="2.50" fill="#00A085"/><circle cx="222.9" cy="1871.7" r="2.50" fill="#00A085"/><circle cx="222.7" cy="1879.7" r="2.50" fill="#00A085"/><circle cx="214.9" cy="1879.7" r="2.50" fill="#00A085"/><circle cx="205.9" cy="1881.7" r="2.50" fill="#00A085"/><circle cx="207.2" cy="1884.5" r="2.50" fill="#00A085"/><circle cx="210.3" cy="1884.5" r="2.50" fill="#00A085"/><circle cx="207.0" cy="1895.6" r="2.50" fill="#00A085"/><circle cx="203.2" cy="1898.9" r="2.50" fill="#00A085"/><circle cx="218.0" cy="1897.8" r="2.50" fill="#00A085"/><circle cx="203.9" cy="1904.0" r="2.50" fill="#00A085"/><circle cx="208.1" cy="1903.3" r="2.50" fill="#00A085"/><circle cx="223.8" cy="1923.2" r="2.50" fill="#00A085"/><circle cx="435.3" cy="1143.8" r="2.50" fill="#00A085"/><circle cx="440.8" cy="1303.8" r="2.50" fill="#00A085"/><circle cx="448.5" cy="1438.1" r="2.50" fill="#00A085"/><circle cx="443.9" cy="1492.3" r="2.50" fill="#00A085"/><circle cx="450.3" cy="1550.4" r="2.50" fill="#00A085"/><circle cx="430.4" cy="1595.0" r="2.50" fill="#00A085"/><circle cx="432.2" cy="1603.4" r="2.50" fill="#00A085"/><circle cx="438.1" cy="1627.1" r="2.50" fill="#00A085"/><circle cx="448.3" cy="1628.6" r="2.50" fill="#00A085"/><circle cx="429.8" cy="1632.6" r="2.50" fill="#00A085"/><circle cx="440.4" cy="1646.5" r="2.50" fill="#00A085"/><circle cx="445.4" cy="1645.2" r="2.50" fill="#00A085"/><circle cx="442.1" cy="1699.3" r="2.50" fill="#00A085"/><circle cx="430.4" cy="1705.1" r="2.50" fill="#00A085"/><circle cx="449.9" cy="1707.3" r="2.50" fill="#00A085"/><circle cx="449.4" cy="1723.2" r="2.50" fill="#00A085"/><circle cx="435.9" cy="1740.4" r="2.50" fill="#00A085"/><circle cx="431.5" cy="1745.3" r="2.50" fill="#00A085"/><circle cx="435.9" cy="1751.9" r="2.50" fill="#00A085"/><circle cx="446.5" cy="1750.2" r="2.50" fill="#00A085"/><circle cx="446.1" cy="1763.4" r="2.50" fill="#00A085"/><circle cx="436.6" cy="1767.8" r="2.50" fill="#00A085"/><circle cx="440.8" cy="1775.8" r="2.50" fill="#00A085"/><circle cx="435.5" cy="1777.8" r="2.50" fill="#00A085"/><circle cx="437.5" cy="1784.0" r="2.50" fill="#00A085"/><circle cx="450.5" cy="1798.3" r="2.50" fill="#00A085"/><circle cx="437.0" cy="1823.1" r="2.50" fill="#00A085"/><circle cx="442.1" cy="1823.1" r="2.50" fill="#00A085"/><circle cx="440.4" cy="1829.3" r="2.50" fill="#00A085"/><circle cx="445.2" cy="1829.3" r="2.50" fill="#00A085"/><circle cx="432.0" cy="1837.5" r="2.50" fill="#00A085"/><circle cx="443.2" cy="1839.2" r="2.50" fill="#00A085"/><circle cx="433.7" cy="1848.7" r="2.50" fill="#00A085"/><circle cx="432.0" cy="1855.4" r="2.50" fill="#00A085"/><circle cx="433.3" cy="1858.0" r="2.50" fill="#00A085"/><circle cx="442.1" cy="1856.5" r="2.50" fill="#00A085"/><circle cx="428.9" cy="1869.5" r="2.50" fill="#00A085"/><circle cx="428.4" cy="1873.5" r="2.50" fill="#00A085"/><circle cx="428.9" cy="1879.0" r="2.50" fill="#00A085"/><circle cx="440.4" cy="1873.5" r="2.50" fill="#00A085"/><circle cx="441.5" cy="1878.6" r="2.50" fill="#00A085"/><circle cx="443.0" cy="1881.9" r="2.50" fill="#00A085"/><circle cx="429.3" cy="1897.8" r="2.50" fill="#00A085"/><circle cx="432.0" cy="1898.5" r="2.50" fill="#00A085"/><circle cx="445.9" cy="1895.6" r="2.50" fill="#00A085"/><circle cx="448.8" cy="1901.8" r="2.50" fill="#00A085"/><circle cx="435.9" cy="1904.4" r="2.50" fill="#00A085"/><circle cx="434.4" cy="1905.5" r="2.50" fill="#00A085"/><circle cx="430.0" cy="1923.2" r="2.50" fill="#00A085"/><circle cx="439.3" cy="1923.2" r="2.50" fill="#00A085"/><circle cx="443.7" cy="1923.2" r="2.50" fill="#00A085"/><circle cx="450.3" cy="1923.2" r="2.50" fill="#00A085"/><circle cx="663.6" cy="1389.7" r="2.50" fill="#00A085"/><circle cx="658.1" cy="1404.3" r="2.50" fill="#00A085"/><circle cx="657.0" cy="1462.4" r="2.50" fill="#00A085"/><circle cx="655.4" cy="1615.6" r="2.50" fill="#00A085"/><circle cx="659.2" cy="1649.6" r="2.50" fill="#00A085"/><circle cx="674.9" cy="1648.5" r="2.50" fill="#00A085"/><circle cx="661.4" cy="1670.6" r="2.50" fill="#00A085"/><circle cx="672.0" cy="1701.8" r="2.50" fill="#00A085"/><circle cx="658.7" cy="1723.6" r="2.50" fill="#00A085"/><circle cx="661.6" cy="1723.6" r="2.50" fill="#00A085"/><circle cx="670.4" cy="1731.4" r="2.50" fill="#00A085"/><circle cx="658.3" cy="1745.3" r="2.50" fill="#00A085"/><circle cx="665.4" cy="1745.3" r="2.50" fill="#00A085"/><circle cx="669.8" cy="1748.6" r="2.50" fill="#00A085"/><circle cx="654.3" cy="1763.2" r="2.50" fill="#00A085"/><circle cx="675.5" cy="1763.2" r="2.50" fill="#00A085"/><circle cx="666.9" cy="1780.0" r="2.50" fill="#00A085"/><circle cx="674.2" cy="1785.5" r="2.50" fill="#00A085"/><circle cx="658.7" cy="1789.5" r="2.50" fill="#00A085"/><circle cx="657.6" cy="1800.1" r="2.50" fill="#00A085"/><circle cx="668.2" cy="1808.7" r="2.50" fill="#00A085"/><circle cx="656.5" cy="1814.3" r="2.50" fill="#00A085"/><circle cx="662.7" cy="1816.7" r="2.50" fill="#00A085"/><circle cx="671.3" cy="1817.8" r="2.50" fill="#00A085"/><circle cx="675.3" cy="1820.9" r="2.50" fill="#00A085"/><circle cx="670.4" cy="1823.1" r="2.50" fill="#00A085"/><circle cx="662.5" cy="1826.2" r="2.50" fill="#00A085"/><circle cx="659.8" cy="1834.8" r="2.50" fill="#00A085"/><circle cx="670.4" cy="1845.4" r="2.50" fill="#00A085"/><circle cx="669.8" cy="1850.3" r="2.50" fill="#00A085"/><circle cx="657.4" cy="1858.0" r="2.50" fill="#00A085"/><circle cx="663.1" cy="1861.8" r="2.50" fill="#00A085"/><circle cx="668.2" cy="1860.2" r="2.50" fill="#00A085"/><circle cx="655.0" cy="1866.2" r="2.50" fill="#00A085"/><circle cx="658.1" cy="1869.7" r="2.50" fill="#00A085"/><circle cx="658.3" cy="1873.5" r="2.50" fill="#00A085"/><circle cx="656.1" cy="1881.2" r="2.50" fill="#00A085"/><circle cx="672.0" cy="1880.1" r="2.50" fill="#00A085"/><circle cx="655.4" cy="1888.3" r="2.50" fill="#00A085"/><circle cx="671.5" cy="1892.7" r="2.50" fill="#00A085"/><circle cx="675.3" cy="1892.7" r="2.50" fill="#00A085"/><circle cx="671.3" cy="1904.9" r="2.50" fill="#00A085"/><circle cx="657.0" cy="1923.2" r="2.50" fill="#00A085"/><circle cx="660.9" cy="1923.2" r="2.50" fill="#00A085"/><circle cx="667.1" cy="1923.2" r="2.50" fill="#00A085"/><circle cx="676.0" cy="1923.2" r="2.50" fill="#00A085"/><circle cx="889.7" cy="1178.0" r="2.50" fill="#00A085"/><circle cx="894.1" cy="1212.3" r="2.50" fill="#00A085"/><circle cx="896.3" cy="1301.1" r="2.50" fill="#00A085"/><circle cx="896.3" cy="1389.9" r="2.50" fill="#00A085"/><circle cx="899.2" cy="1389.9" r="2.50" fill="#00A085"/><circle cx="893.7" cy="1512.8" r="2.50" fill="#00A085"/><circle cx="889.3" cy="1523.2" r="2.50" fill="#00A085"/><circle cx="892.6" cy="1540.4" r="2.50" fill="#00A085"/><circle cx="894.1" cy="1554.1" r="2.50" fill="#00A085"/><circle cx="892.6" cy="1540.9" r="2.50" fill="#00A085"/><circle cx="882.6" cy="1567.8" r="2.50" fill="#00A085"/><circle cx="885.3" cy="1613.4" r="2.50" fill="#00A085"/><circle cx="894.3" cy="1612.3" r="2.50" fill="#00A085"/><circle cx="881.1" cy="1620.0" r="2.50" fill="#00A085"/><circle cx="882.6" cy="1666.2" r="2.50" fill="#00A085"/><circle cx="896.5" cy="1673.5" r="2.50" fill="#00A085"/><circle cx="889.3" cy="1681.2" r="2.50" fill="#00A085"/><circle cx="895.9" cy="1683.4" r="2.50" fill="#00A085"/><circle cx="887.0" cy="1686.3" r="2.50" fill="#00A085"/><circle cx="888.1" cy="1694.5" r="2.50" fill="#00A085"/><circle cx="897.0" cy="1705.1" r="2.50" fill="#00A085"/><circle cx="896.3" cy="1709.9" r="2.50" fill="#00A085"/><circle cx="899.2" cy="1723.2" r="2.50" fill="#00A085"/><circle cx="900.7" cy="1723.6" r="2.50" fill="#00A085"/><circle cx="894.3" cy="1736.9" r="2.50" fill="#00A085"/><circle cx="880.9" cy="1748.0" r="2.50" fill="#00A085"/><circle cx="888.8" cy="1781.3" r="2.50" fill="#00A085"/><circle cx="898.5" cy="1785.5" r="2.50" fill="#00A085"/><circle cx="889.7" cy="1789.9" r="2.50" fill="#00A085"/><circle cx="900.7" cy="1793.9" r="2.50" fill="#00A085"/><circle cx="894.3" cy="1798.3" r="2.50" fill="#00A085"/><circle cx="881.5" cy="1803.4" r="2.50" fill="#00A085"/><circle cx="883.7" cy="1803.4" r="2.50" fill="#00A085"/><circle cx="890.4" cy="1808.7" r="2.50" fill="#00A085"/><circle cx="888.6" cy="1812.7" r="2.50" fill="#00A085"/><circle cx="890.8" cy="1814.9" r="2.50" fill="#00A085"/><circle cx="892.1" cy="1817.6" r="2.50" fill="#00A085"/><circle cx="889.9" cy="1823.3" r="2.50" fill="#00A085"/><circle cx="886.6" cy="1827.1" r="2.50" fill="#00A085"/><circle cx="897.7" cy="1838.8" r="2.50" fill="#00A085"/><circle cx="891.0" cy="1839.9" r="2.50" fill="#00A085"/><circle cx="885.9" cy="1851.8" r="2.50" fill="#00A085"/><circle cx="889.9" cy="1855.1" r="2.50" fill="#00A085"/><circle cx="882.6" cy="1869.5" r="2.50" fill="#00A085"/><circle cx="900.3" cy="1869.7" r="2.50" fill="#00A085"/><circle cx="893.7" cy="1873.5" r="2.50" fill="#00A085"/><circle cx="888.8" cy="1875.7" r="2.50" fill="#00A085"/><circle cx="889.9" cy="1881.2" r="2.50" fill="#00A085"/><circle cx="891.9" cy="1883.4" r="2.50" fill="#00A085"/><circle cx="898.1" cy="1888.3" r="2.50" fill="#00A085"/><circle cx="895.4" cy="1893.8" r="2.50" fill="#00A085"/><circle cx="898.5" cy="1897.1" r="2.50" fill="#00A085"/><circle cx="892.6" cy="1897.8" r="2.50" fill="#00A085"/><circle cx="891.9" cy="1900.4" r="2.50" fill="#00A085"/><circle cx="880.0" cy="1898.2" r="2.50" fill="#00A085"/><circle cx="881.1" cy="1923.2" r="2.50" fill="#00A085"/><circle cx="892.6" cy="1923.2" r="2.50" fill="#00A085"/><circle cx="900.7" cy="1923.2" r="2.50" fill="#00A085"/><circle cx="215.4" cy="1123.2" r="2.50" fill="#FF0000"/><circle cx="219.3" cy="1123.2" r="2.50" fill="#FF0000"/><circle cx="217.1" cy="1142.0" r="2.50" fill="#FF0000"/><circle cx="218.7" cy="1143.1" r="2.50" fill="#FF0000"/><circle cx="209.8" cy="1147.1" r="2.50" fill="#FF0000"/><circle cx="210.9" cy="1149.1" r="2.50" fill="#FF0000"/><circle cx="220.9" cy="1162.3" r="2.50" fill="#FF0000"/><circle cx="224.9" cy="1162.3" r="2.50" fill="#FF0000"/><circle cx="206.1" cy="1165.9" r="2.50" fill="#FF0000"/><circle cx="209.2" cy="1165.6" r="2.50" fill="#FF0000"/><circle cx="202.8" cy="1171.4" r="2.50" fill="#FF0000"/><circle cx="208.7" cy="1172.9" r="2.50" fill="#FF0000"/><circle cx="219.1" cy="1174.7" r="2.50" fill="#FF0000"/><circle cx="214.9" cy="1181.8" r="2.50" fill="#FF0000"/><circle cx="207.6" cy="1187.7" r="2.50" fill="#FF0000"/><circle cx="206.1" cy="1189.7" r="2.50" fill="#FF0000"/><circle cx="211.6" cy="1196.1" r="2.50" fill="#FF0000"/><circle cx="220.9" cy="1189.7" r="2.50" fill="#FF0000"/><circle cx="222.0" cy="1217.6" r="2.50" fill="#FF0000"/><circle cx="203.9" cy="1226.2" r="2.50" fill="#FF0000"/><circle cx="213.8" cy="1228.4" r="2.50" fill="#FF0000"/><circle cx="216.9" cy="1237.7" r="2.50" fill="#FF0000"/><circle cx="219.3" cy="1243.2" r="2.50" fill="#FF0000"/><circle cx="206.5" cy="1246.1" r="2.50" fill="#FF0000"/><circle cx="208.1" cy="1252.7" r="2.50" fill="#FF0000"/><circle cx="206.1" cy="1259.3" r="2.50" fill="#FF0000"/><circle cx="212.0" cy="1265.3" r="2.50" fill="#FF0000"/><circle cx="216.0" cy="1268.4" r="2.50" fill="#FF0000"/><circle cx="204.3" cy="1283.0" r="2.50" fill="#FF0000"/><circle cx="216.5" cy="1283.0" r="2.50" fill="#FF0000"/><circle cx="221.5" cy="1283.0" r="2.50" fill="#FF0000"/><circle cx="211.6" cy="1300.9" r="2.50" fill="#FF0000"/><circle cx="203.6" cy="1323.2" r="2.50" fill="#FF0000"/><circle cx="210.9" cy="1323.2" r="2.50" fill="#FF0000"/><circle cx="210.5" cy="1330.5" r="2.50" fill="#FF0000"/><circle cx="215.8" cy="1330.5" r="2.50" fill="#FF0000"/><circle cx="205.0" cy="1340.9" r="2.50" fill="#FF0000"/><circle cx="212.7" cy="1339.1" r="2.50" fill="#FF0000"/><circle cx="225.1" cy="1340.9" r="2.50" fill="#FF0000"/><circle cx="204.3" cy="1347.1" r="2.50" fill="#FF0000"/><circle cx="209.4" cy="1382.4" r="2.50" fill="#FF0000"/><circle cx="211.4" cy="1383.8" r="2.50" fill="#FF0000"/><circle cx="205.0" cy="1389.5" r="2.50" fill="#FF0000"/><circle cx="222.7" cy="1389.5" r="2.50" fill="#FF0000"/><circle cx="221.5" cy="1397.2" r="2.50" fill="#FF0000"/><circle cx="205.0" cy="1399.9" r="2.50" fill="#FF0000"/><circle cx="205.0" cy="1405.4" r="2.50" fill="#FF0000"/><circle cx="216.5" cy="1414.0" r="2.50" fill="#FF0000"/><circle cx="208.7" cy="1423.1" r="2.50" fill="#FF0000"/><circle cx="220.9" cy="1423.1" r="2.50" fill="#FF0000"/><circle cx="216.9" cy="1436.1" r="2.50" fill="#FF0000"/><circle cx="206.1" cy="1443.0" r="2.50" fill="#FF0000"/><circle cx="214.9" cy="1498.9" r="2.50" fill="#FF0000"/><circle cx="218.7" cy="1497.8" r="2.50" fill="#FF0000"/><circle cx="207.0" cy="1567.8" r="2.50" fill="#FF0000"/><circle cx="209.8" cy="1567.8" r="2.50" fill="#FF0000"/><circle cx="213.6" cy="1615.6" r="2.50" fill="#FF0000"/><circle cx="206.3" cy="1662.7" r="2.50" fill="#FF0000"/><circle cx="220.4" cy="1763.2" r="2.50" fill="#FF0000"/><circle cx="211.6" cy="1851.8" r="2.50" fill="#FF0000"/><circle cx="433.1" cy="1123.2" r="2.50" fill="#FF0000"/><circle cx="438.6" cy="1123.2" r="2.50" fill="#FF0000"/><circle cx="447.9" cy="1123.2" r="2.50" fill="#FF0000"/><circle cx="428.9" cy="1140.9" r="2.50" fill="#FF0000"/><circle cx="440.4" cy="1145.3" r="2.50" fill="#FF0000"/><circle cx="443.0" cy="1144.2" r="2.50" fill="#FF0000"/><circle cx="447.4" cy="1141.5" r="2.50" fill="#FF0000"/><circle cx="437.7" cy="1149.7" r="2.50" fill="#FF0000"/><circle cx="444.8" cy="1147.5" r="2.50" fill="#FF0000"/><circle cx="446.5" cy="1150.8" r="2.50" fill="#FF0000"/><circle cx="440.8" cy="1164.1" r="2.50" fill="#FF0000"/><circle cx="445.9" cy="1166.3" r="2.50" fill="#FF0000"/><circle cx="449.2" cy="1165.2" r="2.50" fill="#FF0000"/><circle cx="450.3" cy="1167.4" r="2.50" fill="#FF0000"/><circle cx="432.4" cy="1172.9" r="2.50" fill="#FF0000"/><circle cx="440.8" cy="1172.9" r="2.50" fill="#FF0000"/><circle cx="439.3" cy="1176.2" r="2.50" fill="#FF0000"/><circle cx="431.5" cy="1189.7" r="2.50" fill="#FF0000"/><circle cx="440.4" cy="1189.7" r="2.50" fill="#FF0000"/><circle cx="444.8" cy="1191.0" r="2.50" fill="#FF0000"/><circle cx="450.7" cy="1188.4" r="2.50" fill="#FF0000"/><circle cx="430.9" cy="1197.9" r="2.50" fill="#FF0000"/><circle cx="435.9" cy="1197.2" r="2.50" fill="#FF0000"/><circle cx="447.0" cy="1208.7" r="2.50" fill="#FF0000"/><circle cx="450.3" cy="1207.6" r="2.50" fill="#FF0000"/><circle cx="430.9" cy="1217.3" r="2.50" fill="#FF0000"/><circle cx="440.8" cy="1217.3" r="2.50" fill="#FF0000"/><circle cx="443.7" cy="1223.1" r="2.50" fill="#FF0000"/><circle cx="448.5" cy="1223.1" r="2.50" fill="#FF0000"/><circle cx="431.1" cy="1248.3" r="2.50" fill="#FF0000"/><circle cx="448.3" cy="1262.4" r="2.50" fill="#FF0000"/><circle cx="447.0" cy="1268.4" r="2.50" fill="#FF0000"/><circle cx="434.4" cy="1270.4" r="2.50" fill="#FF0000"/><circle cx="436.6" cy="1283.0" r="2.50" fill="#FF0000"/><circle cx="432.0" cy="1295.8" r="2.50" fill="#FF0000"/><circle cx="438.8" cy="1294.5" r="2.50" fill="#FF0000"/><circle cx="429.3" cy="1300.9" r="2.50" fill="#FF0000"/><circle cx="445.2" cy="1306.0" r="2.50" fill="#FF0000"/><circle cx="449.2" cy="1323.2" r="2.50" fill="#FF0000"/><circle cx="444.8" cy="1339.3" r="2.50" fill="#FF0000"/><circle cx="443.2" cy="1341.3" r="2.50" fill="#FF0000"/><circle cx="437.0" cy="1347.1" r="2.50" fill="#FF0000"/><circle cx="430.4" cy="1401.0" r="2.50" fill="#FF0000"/><circle cx="435.5" cy="1399.9" r="2.50" fill="#FF0000"/><circle cx="448.5" cy="1413.8" r="2.50" fill="#FF0000"/><circle cx="445.4" cy="1418.2" r="2.50" fill="#FF0000"/><circle cx="448.1" cy="1419.8" r="2.50" fill="#FF0000"/><circle cx="449.6" cy="1443.0" r="2.50" fill="#FF0000"/><circle cx="438.1" cy="1451.4" r="2.50" fill="#FF0000"/><circle cx="429.3" cy="1496.2" r="2.50" fill="#FF0000"/><circle cx="448.5" cy="1553.7" r="2.50" fill="#FF0000"/><circle cx="448.8" cy="1553.9" r="2.50" fill="#FF0000"/><circle cx="433.3" cy="1608.3" r="2.50" fill="#FF0000"/><circle cx="432.0" cy="1742.7" r="2.50" fill="#FF0000"/><circle cx="444.3" cy="1902.2" r="2.50" fill="#FF0000"/><circle cx="664.3" cy="1123.2" r="2.50" fill="#FF0000"/><circle cx="667.6" cy="1123.2" r="2.50" fill="#FF0000"/><circle cx="676.0" cy="1123.2" r="2.50" fill="#FF0000"/><circle cx="662.5" cy="1141.5" r="2.50" fill="#FF0000"/><circle cx="659.8" cy="1154.1" r="2.50" fill="#FF0000"/><circle cx="662.7" cy="1154.1" r="2.50" fill="#FF0000"/><circle cx="667.1" cy="1158.6" r="2.50" fill="#FF0000"/><circle cx="669.3" cy="1157.0" r="2.50" fill="#FF0000"/><circle cx="653.9" cy="1165.2" r="2.50" fill="#FF0000"/><circle cx="658.3" cy="1166.3" r="2.50" fill="#FF0000"/><circle cx="655.4" cy="1172.9" r="2.50" fill="#FF0000"/><circle cx="656.5" cy="1176.2" r="2.50" fill="#FF0000"/><circle cx="657.6" cy="1180.7" r="2.50" fill="#FF0000"/><circle cx="654.8" cy="1184.6" r="2.50" fill="#FF0000"/><circle cx="664.9" cy="1186.2" r="2.50" fill="#FF0000"/><circle cx="672.4" cy="1188.0" r="2.50" fill="#FF0000"/><circle cx="673.5" cy="1196.1" r="2.50" fill="#FF0000"/><circle cx="655.4" cy="1200.8" r="2.50" fill="#FF0000"/><circle cx="663.8" cy="1212.0" r="2.50" fill="#FF0000"/><circle cx="672.0" cy="1220.0" r="2.50" fill="#FF0000"/><circle cx="654.8" cy="1223.3" r="2.50" fill="#FF0000"/><circle cx="656.5" cy="1225.3" r="2.50" fill="#FF0000"/><circle cx="669.8" cy="1226.4" r="2.50" fill="#FF0000"/><circle cx="670.4" cy="1229.3" r="2.50" fill="#FF0000"/><circle cx="675.7" cy="1232.6" r="2.50" fill="#FF0000"/><circle cx="662.5" cy="1237.5" r="2.50" fill="#FF0000"/><circle cx="665.8" cy="1245.9" r="2.50" fill="#FF0000"/><circle cx="666.5" cy="1255.8" r="2.50" fill="#FF0000"/><circle cx="668.7" cy="1256.9" r="2.50" fill="#FF0000"/><circle cx="666.9" cy="1260.9" r="2.50" fill="#FF0000"/><circle cx="659.2" cy="1266.4" r="2.50" fill="#FF0000"/><circle cx="653.9" cy="1283.0" r="2.50" fill="#FF0000"/><circle cx="667.1" cy="1283.0" r="2.50" fill="#FF0000"/><circle cx="660.9" cy="1298.0" r="2.50" fill="#FF0000"/><circle cx="662.7" cy="1300.7" r="2.50" fill="#FF0000"/><circle cx="653.9" cy="1300.7" r="2.50" fill="#FF0000"/><circle cx="674.2" cy="1314.8" r="2.50" fill="#FF0000"/><circle cx="662.0" cy="1323.2" r="2.50" fill="#FF0000"/><circle cx="673.3" cy="1323.2" r="2.50" fill="#FF0000"/><circle cx="670.4" cy="1344.4" r="2.50" fill="#FF0000"/><circle cx="665.8" cy="1375.6" r="2.50" fill="#FF0000"/><circle cx="658.3" cy="1396.6" r="2.50" fill="#FF0000"/><circle cx="659.8" cy="1398.3" r="2.50" fill="#FF0000"/><circle cx="667.1" cy="1430.8" r="2.50" fill="#FF0000"/><circle cx="674.2" cy="1584.0" r="2.50" fill="#FF0000"/><circle cx="658.1" cy="1642.1" r="2.50" fill="#FF0000"/><circle cx="661.6" cy="1656.9" r="2.50" fill="#FF0000"/><circle cx="883.7" cy="1123.2" r="2.50" fill="#FF0000"/><circle cx="889.7" cy="1123.2" r="2.50" fill="#FF0000"/><circle cx="900.3" cy="1123.2" r="2.50" fill="#FF0000"/><circle cx="894.3" cy="1145.3" r="2.50" fill="#FF0000"/><circle cx="887.7" cy="1148.2" r="2.50" fill="#FF0000"/><circle cx="889.7" cy="1148.2" r="2.50" fill="#FF0000"/><circle cx="897.7" cy="1152.6" r="2.50" fill="#FF0000"/><circle cx="894.8" cy="1158.1" r="2.50" fill="#FF0000"/><circle cx="886.4" cy="1163.4" r="2.50" fill="#FF0000"/><circle cx="893.0" cy="1165.6" r="2.50" fill="#FF0000"/><circle cx="895.2" cy="1170.3" r="2.50" fill="#FF0000"/><circle cx="897.0" cy="1173.4" r="2.50" fill="#FF0000"/><circle cx="899.9" cy="1176.7" r="2.50" fill="#FF0000"/><circle cx="883.3" cy="1176.5" r="2.50" fill="#FF0000"/><circle cx="889.7" cy="1190.6" r="2.50" fill="#FF0000"/><circle cx="889.7" cy="1194.4" r="2.50" fill="#FF0000"/><circle cx="885.9" cy="1207.6" r="2.50" fill="#FF0000"/><circle cx="895.2" cy="1206.5" r="2.50" fill="#FF0000"/><circle cx="899.2" cy="1219.3" r="2.50" fill="#FF0000"/><circle cx="899.9" cy="1223.1" r="2.50" fill="#FF0000"/><circle cx="897.0" cy="1228.2" r="2.50" fill="#FF0000"/><circle cx="883.1" cy="1231.5" r="2.50" fill="#FF0000"/><circle cx="897.7" cy="1234.1" r="2.50" fill="#FF0000"/><circle cx="884.4" cy="1237.5" r="2.50" fill="#FF0000"/><circle cx="890.4" cy="1243.0" r="2.50" fill="#FF0000"/><circle cx="899.9" cy="1243.0" r="2.50" fill="#FF0000"/><circle cx="885.9" cy="1247.6" r="2.50" fill="#FF0000"/><circle cx="896.3" cy="1252.0" r="2.50" fill="#FF0000"/><circle cx="885.9" cy="1256.5" r="2.50" fill="#FF0000"/><circle cx="883.1" cy="1260.9" r="2.50" fill="#FF0000"/><circle cx="892.1" cy="1265.3" r="2.50" fill="#FF0000"/><circle cx="898.5" cy="1264.2" r="2.50" fill="#FF0000"/><circle cx="887.5" cy="1298.5" r="2.50" fill="#FF0000"/><circle cx="880.0" cy="1309.9" r="2.50" fill="#FF0000"/><circle cx="886.6" cy="1323.2" r="2.50" fill="#FF0000"/><circle cx="895.9" cy="1323.2" r="2.50" fill="#FF0000"/><circle cx="901.4" cy="1336.5" r="2.50" fill="#FF0000"/><circle cx="894.8" cy="1341.3" r="2.50" fill="#FF0000"/><circle cx="887.7" cy="1351.5" r="2.50" fill="#FF0000"/><circle cx="893.7" cy="1360.3" r="2.50" fill="#FF0000"/><circle cx="894.3" cy="1364.8" r="2.50" fill="#FF0000"/><circle cx="899.2" cy="1373.4" r="2.50" fill="#FF0000"/><circle cx="880.0" cy="1380.2" r="2.50" fill="#FF0000"/><circle cx="881.1" cy="1426.4" r="2.50" fill="#FF0000"/><circle cx="897.0" cy="1434.1" r="2.50" fill="#FF0000"/><circle cx="901.0" cy="1432.6" r="2.50" fill="#FF0000"/><circle cx="893.0" cy="1478.6" r="2.50" fill="#FF0000"/><circle cx="882.0" cy="1492.3" r="2.50" fill="#FF0000"/><circle cx="886.6" cy="1505.5" r="2.50" fill="#FF0000"/><circle cx="893.0" cy="1523.2" r="2.50" fill="#FF0000"/><circle cx="880.4" cy="1533.1" r="2.50" fill="#FF0000"/><circle cx="883.7" cy="1656.9" r="2.50" fill="#FF0000"/><circle cx="899.6" cy="1656.9" r="2.50" fill="#FF0000"/><circle cx="890.4" cy="1745.3" r="2.50" fill="#FF0000"/><circle cx="898.8" cy="1834.4" r="2.50" fill="#FF0000"/><circle cx="884.4" cy="1868.0" r="2.50" fill="#FF0000"/><line x1="239.20" y1="1123.20" x2="239.20" y2="1174.00" stroke="#000" stroke-width="1.90"/><line x1="239.20" y1="1389.90" x2="239.20" y2="1662.40" stroke="#000" stroke-width="1.90"/><rect x="231.90" y="1174.00" width="15.50" height="215.90" fill="rgb(255,0,0)" fill-opacity="0.8" stroke="#000" stroke-width="2.0"/><line x1="231.90" y1="1265.30" x2="247.40" y2="1265.30" stroke="#000" stroke-width="3.6"/><line x1="464.70" y1="1123.20" x2="464.70" y2="1164.10" stroke="#000" stroke-width="1.90"/><line x1="464.70" y1="1331.40" x2="464.70" y2="1553.70" stroke="#000" stroke-width="1.90"/><rect x="456.90" y="1164.10" width="15.90" height="167.30" fill="rgb(255,0,0)" fill-opacity="0.8" stroke="#000" stroke-width="2.0"/><line x1="456.90" y1="1208.70" x2="472.80" y2="1208.70" stroke="#000" stroke-width="3.6"/><line x1="690.30" y1="1123.20" x2="690.30" y2="1169.60" stroke="#000" stroke-width="1.90"/><line x1="690.30" y1="1300.20" x2="690.30" y2="1430.40" stroke="#000" stroke-width="1.90"/><rect x="682.60" y="1169.60" width="15.90" height="130.60" fill="rgb(255,0,0)" fill-opacity="0.8" stroke="#000" stroke-width="2.0"/><line x1="682.60" y1="1226.40" x2="698.50" y2="1226.40" stroke="#000" stroke-width="3.6"/><line x1="915.80" y1="1123.20" x2="915.80" y2="1174.50" stroke="#000" stroke-width="1.90"/><line x1="915.80" y1="1364.50" x2="915.80" y2="1532.70" stroke="#000" stroke-width="1.90"/><rect x="908.00" y="1174.50" width="16.20" height="190.00" fill="rgb(255,0,0)" fill-opacity="0.8" stroke="#000" stroke-width="2.0"/><line x1="908.00" y1="1250.30" x2="924.20" y2="1250.30" stroke="#000" stroke-width="3.6"/><line x1="256.20" y1="1384.40" x2="256.20" y2="1656.50" stroke="#000" stroke-width="1.90"/><line x1="256.20" y1="1873.50" x2="256.20" y2="1923.90" stroke="#000" stroke-width="1.90"/><rect x="248.10" y="1656.50" width="16.50" height="217.00" fill="rgb(3,160,136)" fill-opacity="0.8" stroke="#000" stroke-width="2.0"/><line x1="248.10" y1="1780.70" x2="264.60" y2="1780.70" stroke="#000" stroke-width="3.6"/><line x1="481.70" y1="1492.70" x2="481.70" y2="1714.80" stroke="#000" stroke-width="1.90"/><line x1="481.70" y1="1882.30" x2="481.70" y2="1923.90" stroke="#000" stroke-width="1.90"/><rect x="474.00" y="1714.80" width="15.60" height="167.50" fill="rgb(3,160,136)" fill-opacity="0.8" stroke="#000" stroke-width="2.0"/><line x1="474.00" y1="1837.70" x2="489.60" y2="1837.70" stroke="#000" stroke-width="3.6"/><line x1="707.30" y1="1615.60" x2="707.30" y2="1746.80" stroke="#000" stroke-width="1.90"/><line x1="707.30" y1="1876.80" x2="707.30" y2="1923.90" stroke="#000" stroke-width="1.90"/><rect x="699.60" y="1746.80" width="15.90" height="130.00" fill="rgb(3,160,136)" fill-opacity="0.8" stroke="#000" stroke-width="2.0"/><line x1="699.60" y1="1820.40" x2="715.50" y2="1820.40" stroke="#000" stroke-width="3.6"/><line x1="932.80" y1="1513.30" x2="932.80" y2="1681.70" stroke="#000" stroke-width="1.90"/><line x1="932.80" y1="1873.50" x2="932.80" y2="1923.90" stroke="#000" stroke-width="1.90"/><rect x="924.20" y="1681.70" width="16.50" height="191.80" fill="rgb(3,160,136)" fill-opacity="0.8" stroke="#000" stroke-width="2.0"/><line x1="924.20" y1="1796.10" x2="940.70" y2="1796.10" stroke="#000" stroke-width="3.6"/><line x1="270.60" y1="1286.70" x2="270.60" y2="1327.20" stroke="#000" stroke-width="1.90"/><line x1="262.50" y1="1286.70" x2="278.70" y2="1286.70" stroke="#000" stroke-width="1.90"/><line x1="262.50" y1="1327.20" x2="278.70" y2="1327.20" stroke="#000" stroke-width="1.90"/><path d="M270.60,1303.00 L274.20,1306.60 L270.60,1310.20 L267.00,1306.60 Z" fill="#000"/><line x1="496.00" y1="1248.50" x2="496.00" y2="1289.60" stroke="#000" stroke-width="1.90"/><line x1="487.90" y1="1248.50" x2="504.10" y2="1248.50" stroke="#000" stroke-width="1.90"/><line x1="487.90" y1="1289.60" x2="504.10" y2="1289.60" stroke="#000" stroke-width="1.90"/><path d="M496.00,1265.50 L499.60,1269.10 L496.00,1272.70 L492.40,1269.10 Z" fill="#000"/><line x1="721.30" y1="1235.90" x2="721.30" y2="1270.60" stroke="#000" stroke-width="1.90"/><line x1="713.20" y1="1235.90" x2="729.40" y2="1235.90" stroke="#000" stroke-width="1.90"/><line x1="713.20" y1="1270.60" x2="729.40" y2="1270.60" stroke="#000" stroke-width="1.90"/><path d="M721.30,1249.30 L724.90,1252.90 L721.30,1256.50 L717.70,1252.90 Z" fill="#000"/><line x1="947.20" y1="1283.40" x2="947.20" y2="1328.10" stroke="#000" stroke-width="1.90"/><line x1="939.10" y1="1283.40" x2="955.30" y2="1283.40" stroke="#000" stroke-width="1.90"/><line x1="939.10" y1="1328.10" x2="955.30" y2="1328.10" stroke="#000" stroke-width="1.90"/><path d="M947.20,1301.90 L950.80,1305.50 L947.20,1309.10 L943.60,1305.50 Z" fill="#000"/><line x1="270.60" y1="1719.40" x2="270.60" y2="1760.10" stroke="#000" stroke-width="1.90"/><line x1="262.50" y1="1719.40" x2="278.70" y2="1719.40" stroke="#000" stroke-width="1.90"/><line x1="262.50" y1="1760.10" x2="278.70" y2="1760.10" stroke="#000" stroke-width="1.90"/><path d="M270.60,1736.20 L274.20,1739.80 L270.60,1743.40 L267.00,1739.80 Z" fill="#000"/><line x1="496.00" y1="1757.00" x2="496.00" y2="1798.30" stroke="#000" stroke-width="1.90"/><line x1="487.90" y1="1757.00" x2="504.10" y2="1757.00" stroke="#000" stroke-width="1.90"/><line x1="487.90" y1="1798.30" x2="504.10" y2="1798.30" stroke="#000" stroke-width="1.90"/><path d="M496.00,1773.70 L499.60,1777.30 L496.00,1780.90 L492.40,1777.30 Z" fill="#000"/><line x1="721.30" y1="1776.20" x2="721.30" y2="1810.90" stroke="#000" stroke-width="1.90"/><line x1="713.20" y1="1776.20" x2="729.40" y2="1776.20" stroke="#000" stroke-width="1.90"/><line x1="713.20" y1="1810.90" x2="729.40" y2="1810.90" stroke="#000" stroke-width="1.90"/><path d="M721.30,1789.90 L724.90,1793.50 L721.30,1797.10 L717.70,1793.50 Z" fill="#000"/><line x1="947.20" y1="1718.80" x2="947.20" y2="1763.00" stroke="#000" stroke-width="1.90"/><line x1="939.10" y1="1718.80" x2="955.30" y2="1718.80" stroke="#000" stroke-width="1.90"/><line x1="939.10" y1="1763.00" x2="955.30" y2="1763.00" stroke="#000" stroke-width="1.90"/><path d="M947.20,1737.70 L950.80,1741.30 L947.20,1744.90 L943.60,1741.30 Z" fill="#000"/><path d="M270.60,1306.60 L496.00,1269.10 L721.30,1252.90 L947.20,1305.50" fill="none" stroke="#FF0000" stroke-width="3.40" stroke-dasharray="3.21 9.63" stroke-linecap="butt"/><path d="M270.60,1739.80 L496.00,1777.30 L721.30,1793.50 L947.20,1741.30" fill="none" stroke="#00A085" stroke-width="3.40" stroke-dasharray="3.21 9.63" stroke-linecap="butt"/><line x1="105.20" y1="1923.90" x2="112.50" y2="1923.90" stroke="#000" stroke-width="2.00"/><text transform="translate(99.60,1935.90) scale(1.000,1.040)" text-anchor="end" fill="#4D4D4D" font-size="34">0</text><line x1="105.20" y1="1763.74" x2="112.50" y2="1763.74" stroke="#000" stroke-width="2.00"/><text transform="translate(99.60,1775.74) scale(1.000,1.040)" text-anchor="end" fill="#4D4D4D" font-size="34">20</text><line x1="105.20" y1="1603.58" x2="112.50" y2="1603.58" stroke="#000" stroke-width="2.00"/><text transform="translate(99.60,1615.58) scale(1.000,1.040)" text-anchor="end" fill="#4D4D4D" font-size="34">40</text><line x1="105.20" y1="1443.42" x2="112.50" y2="1443.42" stroke="#000" stroke-width="2.00"/><text transform="translate(99.60,1455.42) scale(1.000,1.040)" text-anchor="end" fill="#4D4D4D" font-size="34">60</text><line x1="105.20" y1="1283.26" x2="112.50" y2="1283.26" stroke="#000" stroke-width="2.00"/><text transform="translate(99.60,1295.26) scale(1.000,1.040)" text-anchor="end" fill="#4D4D4D" font-size="34">80</text><line x1="105.20" y1="1123.10" x2="112.50" y2="1123.10" stroke="#000" stroke-width="2.00"/><text transform="translate(99.60,1135.10) scale(1.000,1.040)" text-anchor="end" fill="#4D4D4D" font-size="34">100</text><line x1="247.60" y1="1963.80" x2="247.60" y2="1970.80" stroke="#000" stroke-width="2.00"/><text transform="translate(247.20,2001.30) scale(1.000,1.040)" text-anchor="middle" fill="#4D4D4D" font-size="34">Under 35</text><line x1="473.20" y1="1963.80" x2="473.20" y2="1970.80" stroke="#000" stroke-width="2.00"/><text transform="translate(472.80,2001.30) scale(1.000,1.040)" text-anchor="middle" fill="#4D4D4D" font-size="34">35-44</text><line x1="698.80" y1="1963.80" x2="698.80" y2="1970.80" stroke="#000" stroke-width="2.00"/><text transform="translate(698.40,2001.30) scale(1.000,1.040)" text-anchor="middle" fill="#4D4D4D" font-size="34">45-54</text><line x1="924.30" y1="1963.80" x2="924.30" y2="1970.80" stroke="#000" stroke-width="2.00"/><text transform="translate(923.90,2001.30) scale(1.000,1.040)" text-anchor="middle" fill="#4D4D4D" font-size="34">55 And Over</text><line x1="112.55" y1="1083.30" x2="112.55" y2="1965.30" stroke="#000" stroke-width="2.8"/><line x1="111.2" y1="1963.80" x2="1060" y2="1963.80" stroke="#000" stroke-width="3.0"/><text transform="translate(586.00,2039.30) scale(1.000,1.040)" text-anchor="middle" fill="#000" font-size="34">Age Group</text><text transform="translate(28.90,1523.55) rotate(-90) scale(1.000,1.040)" text-anchor="middle" fill="#000" font-size="34">Proportions of Prosocial Behavior (%)</text><path d="M1013.6,1098 L1030,1098 C1037,1098 1041.9,1101.5 1041.9,1107.5 C1041.9,1112.5 1039.5,1116.5 1036.5,1118.3 C1041.2,1120 1044.2,1124.5 1044.2,1130 C1044.2,1137.5 1038.5,1142 1031,1142 L1013.6,1142 Q1011.4,1142 1011.4,1139.8 L1011.4,1100.2 Q1011.4,1098 1013.6,1098 Z M1020.8,1104.7 L1026.4,1104.7 A5.6,5.6 0 0 1 1026.4,1115.9 L1020.8,1115.9 Z M1020.8,1122.7 L1028.1,1122.7 A6.3,6.3 0 0 1 1028.1,1135.3 L1020.8,1135.3 Z" fill="#000" fill-rule="evenodd" stroke="#fff" stroke-width="3" paint-order="stroke" stroke-linejoin="round"/><text transform="translate(305.20,2092.20) scale(1.000,1.040)" fill="#000" font-size="34">Empathy Opportunity</text><rect x="645.00" y="2064.20" width="31.8" height="31.8" fill="rgb(255,0,0)" fill-opacity="0.9"/><line x1="660.90" y1="2065.50" x2="660.90" y2="2071.20" stroke="#000" stroke-width="2.00"/><line x1="660.90" y1="2089.20" x2="660.90" y2="2094.80" stroke="#000" stroke-width="2.00"/><rect x="648.00" y="2071.30" width="25.80" height="17.60" fill="rgb(255,0,0)" fill-opacity="0.5" stroke="#000" stroke-width="2"/><rect x="646.50" y="2078.20" width="3" height="4" fill="rgb(255,0,0)"/><rect x="672.30" y="2078.20" width="3" height="4" fill="rgb(255,0,0)"/><line x1="650.60" y1="2080.20" x2="671.80" y2="2080.20" stroke="#000" stroke-width="2.00"/><path d="M660.90,2076.50 L664.60,2080.20 L660.90,2083.90 L657.20,2080.20 Z" fill="#000"/><circle cx="661.20" cy="2080.20" r="1.9" fill="rgb(255,0,0)"/><text transform="translate(694.40,2091.70) scale(1.055,1.040)" fill="#000" font-size="34">Yes</text><rect x="772.40" y="2064.10" width="31.8" height="31.8" fill="rgb(3,160,136)" fill-opacity="0.9"/><line x1="788.30" y1="2065.40" x2="788.30" y2="2071.10" stroke="#000" stroke-width="2.00"/><line x1="788.30" y1="2089.10" x2="788.30" y2="2094.70" stroke="#000" stroke-width="2.00"/><rect x="775.40" y="2071.20" width="25.80" height="17.60" fill="rgb(3,160,136)" fill-opacity="0.5" stroke="#000" stroke-width="2"/><rect x="773.90" y="2078.10" width="3" height="4" fill="rgb(3,160,136)"/><rect x="799.70" y="2078.10" width="3" height="4" fill="rgb(3,160,136)"/><line x1="778.00" y1="2080.10" x2="799.20" y2="2080.10" stroke="#000" stroke-width="2.00"/><path d="M788.30,2076.40 L792.00,2080.10 L788.30,2083.80 L784.60,2080.10 Z" fill="#000"/><circle cx="788.60" cy="2080.10" r="1.9" fill="rgb(3,160,136)"/><text transform="translate(822.00,2091.70) scale(1.000,1.040)" fill="#000" font-size="34">No</text>
</svg></body></html>
